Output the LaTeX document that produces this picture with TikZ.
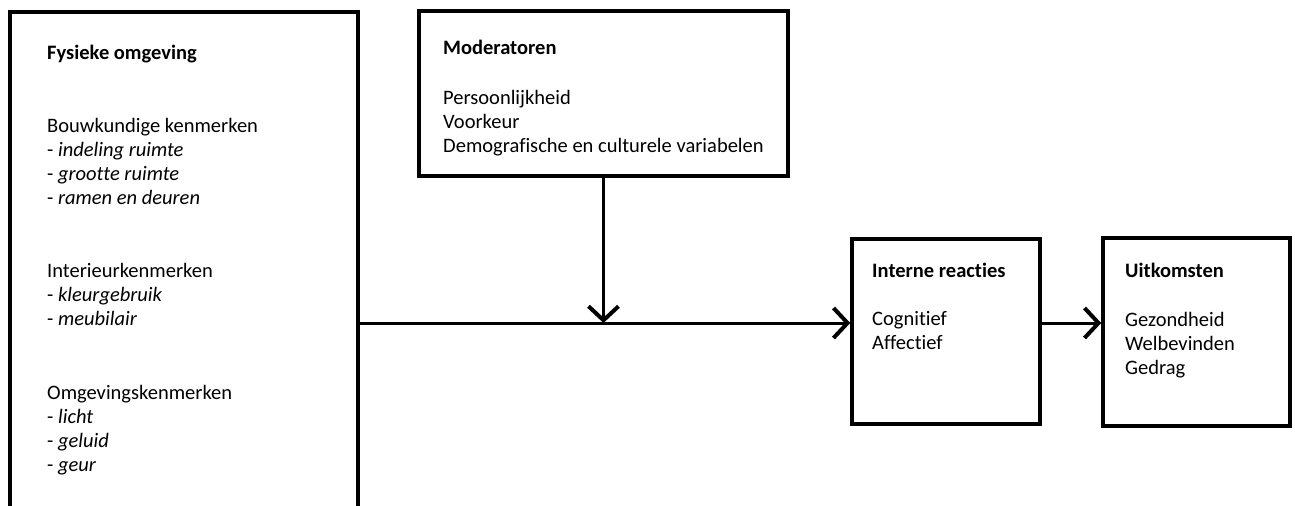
\documentclass[tikz,border=0pt]{standalone}
\usepackage{fontspec}
\setmainfont{Carlito}[Ligatures=NoCommon]
\usetikzlibrary{arrows.meta}

\begin{document}
\begin{tikzpicture}[x=1pt,y=-1pt,>={Straight Barb[length=14pt,width=30pt,line width=4pt]},every node/.style={font=\fontsize{20.5}{24}\selectfont},box/.style={draw,line width=3.5pt,inner sep=0pt},tekst/.style={anchor=north west,align=left,inner sep=0pt},pijl/.style={line width=3pt}]

	\useasboundingbox (0,0) rectangle (1296,506);
	\clip (0,0) rectangle (1296,506);

	% kaders
	\node [box,minimum width=348pt,minimum height=520pt]	at (184,272)		(fysiek)		{};
	\node [box,minimum width=369pt,minimum height=165pt]	at (603.5,93.5)	(moderatoren)	{};
	\node [box,minimum width=188pt,minimum height=185pt]	at (946,331.5)		(intern)		{};
	\node [box,minimum width=187pt,minimum height=188pt]	at (1196.5,332)	(uitkomst)		{};

	% teksten
	\node [tekst] at (47,45)	(fysiek_t)		{\textbf{Fysieke omgeving}\\[49pt]
												Bouwkundige kenmerken\\
												- \textit{indeling ruimte}\\
												- \textit{grootte ruimte}\\
												- \textit{ramen en deuren}\\[49pt]
												Interieurkenmerken\\
												- \textit{kleurgebruik}\\
												- \textit{meubilair}\\[50pt]
												Omgevingskenmerken\\
												- \textit{licht}\\
												- \textit{geluid}\\
												- \textit{geur}};
	\node [tekst] at (443,40)	(moderatoren_t)	{\textbf{Moderatoren}\\[26pt]
												Persoonlijkheid\\
												Voorkeur\\
												Demografische en culturele variabelen};
	\node [tekst] at (872,263)	(intern_t)		{\textbf{Interne reacties}\\[24pt]
												Cognitief\\
												Affectief};
	\node [tekst] at (1125,263)	(uitkomst_t)	{\textbf{Uitkomsten}\\[25pt]
												Gezondheid\\
												Welbevinden\\
												Gedrag};

	% pijlen
	\coordinate (kruising) at (moderatoren.south |- 0,323);
	\draw [pijl]		(fysiek.east |- kruising)	-- (kruising);
	\draw [pijl,->]		(kruising)					-- (intern.west |- kruising);
	\draw [pijl,->]		(moderatoren.south)			-- (kruising);
	\draw [pijl,->]		(intern.east |- kruising)	-- (uitkomst.west |- kruising);

\end{tikzpicture}
\end{document}
